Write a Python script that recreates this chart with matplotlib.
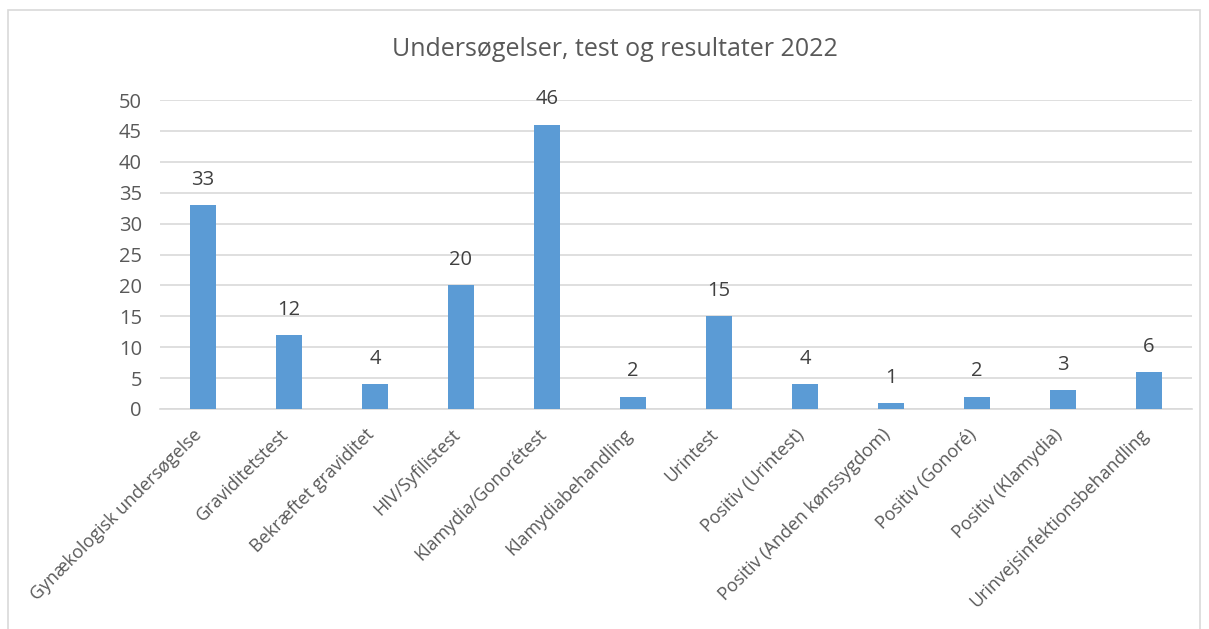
import matplotlib
matplotlib.use("Agg")
import matplotlib.pyplot as plt
from matplotlib.patches import Rectangle
import matplotlib.transforms as mtransforms
import numpy as np

plt.rcParams['font.family'] = ['Open Sans', 'DejaVu Sans']

categories = ["Gynækologisk undersøgelse", "Graviditetstest", "Bekræftet graviditet",
              "HIV/Syfilistest", "Klamydia/Gonorétest", "Klamydiabehandling",
              "Urintest", "Positiv (Urintest)", "Positiv (Anden kønssygdom)",
              "Positiv (Gonoré)", "Positiv (Klamydia)", "Urinvejsinfektionsbehandling"]
values = [33, 12, 4, 20, 46, 2, 15, 4, 1, 2, 3, 6]
yticks = [0, 5, 10, 15, 20, 25, 30, 35, 40, 45, 50]

txt = '#595959'
grid = '#D9D9D9'

fig = plt.figure(figsize=(12.09, 6.29), dpi=100)
# chart border
fig.patches.append(Rectangle((8 / 1209, -0.01), 1192 / 1209, 1 - 10 / 629 + 0.01,
                             transform=fig.transFigure, fill=False,
                             edgecolor='#D9D9D9', linewidth=1.2))

ax = fig.add_axes([160 / 1209, 1 - 409 / 629, (1192 - 160) / 1209, (409 - 100) / 629])
x = np.arange(len(categories))
bars = ax.bar(x, values, width=0.31, color='#5B9BD5', zorder=3)

for xi, v in zip(x, values):
    ax.annotate(str(v), (xi, v), xytext=(0, 11), textcoords='offset points',
                ha='center', va='bottom', fontsize=14.5, color='#404040')

ax.set_xlim(-0.5, len(categories) - 0.5)
ax.set_ylim(0, 50)
ax.set_yticks(yticks)
ax.yaxis.grid(True, color=grid, linewidth=1.2, zorder=0)
ax.tick_params(axis='y', length=0, pad=13, labelsize=14.5, labelcolor=txt)
ax.tick_params(axis='x', length=0, pad=12)
ax.set_xticks(x)
ax.set_xticklabels(categories, rotation=45, ha='right', va='top',
                   rotation_mode='anchor', fontsize=13, color=txt)
shift = mtransforms.ScaledTranslation(-10 / 100, 0, fig.dpi_scale_trans)
for lbl in ax.get_xticklabels():
    lbl.set_transform(lbl.get_transform() + shift)
for s in ['top', 'right', 'left']:
    ax.spines[s].set_visible(False)
ax.spines['bottom'].set_color(grid)
ax.spines['bottom'].set_linewidth(1.2)

fig.text(615 / 1209, 1 - 50 / 629, "Undersøgelser, test og resultater 2022",
         ha='center', va='center', fontsize=18, color=txt)

fig.savefig("out.png", dpi=100)
